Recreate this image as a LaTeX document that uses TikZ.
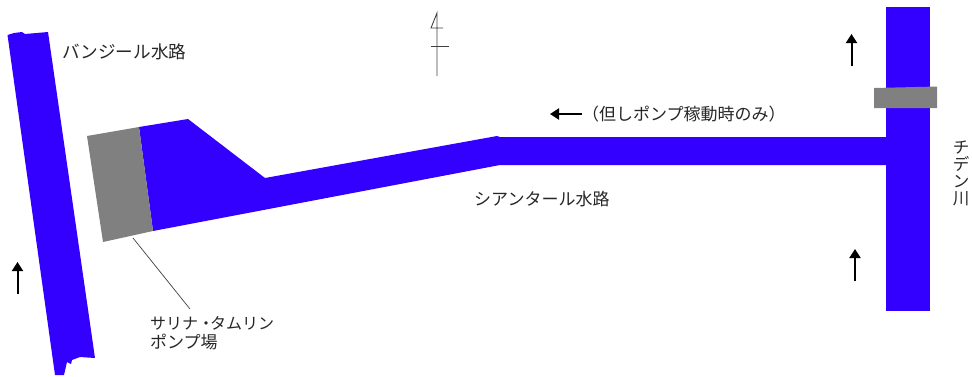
\documentclass[tikz,border=0pt]{standalone}
\usepackage{fontspec}
\usetikzlibrary{arrows.meta}
\setmainfont{Noto Sans CJK JP}
\definecolor{canal}{HTML}{3300FF}
\definecolor{pumpgray}{HTML}{808080}
\begin{document}
\begin{tikzpicture}[x=1pt,y=-1pt,
  water/.style={fill=canal,draw=none},
  pump/.style={fill=pumpgray,draw=none},
  flow/.style={line width=2pt,-{Triangle[length=9pt,width=11pt]},black},
  thin line/.style={draw=black!75,line width=0.9pt},
  label/.style={inner sep=0pt,anchor=west,font=\fontsize{17}{19}\selectfont,text=black!85}]
\useasboundingbox (0,0) rectangle (972,376);
% left canal
\fill[water] (7.5,35) -- (14,33) -- (22,32) -- (25,34) -- (48,32) -- (95,358) -- (80,357) -- (72,360) -- (71,364) -- (67,362) -- (64,375) -- (55,375) -- cycle;
% main canal
\fill[water] (139,127) -- (188,119) -- (265,178) -- (497,136) -- (500,137) -- (886,137) -- (886,165) -- (500,165) -- (153,231) -- cycle;
% river
\fill[water] (886,7) rectangle (930,311);
% pump stations
\fill[pump] (87,136) -- (139,127) -- (153,231) -- (103,242) -- cycle;
\fill[pump] (874,88) -- (937,86.5) -- (937,108) -- (874,108) -- cycle;
% north mark
\coordinate (nt) at (437,13);
\coordinate (nb) at (437,76);
\coordinate (nh) at (431,28);
\coordinate (nr) at (443,28);
\coordinate (cl) at (431,46);
\coordinate (cr) at (449,46);
\draw[thin line] (nb) -- (nt) -- (nh) -- (nr);
\draw[thin line] (cl) -- (cr);
% leader
\coordinate (l1) at (133,238);
\coordinate (l2) at (190,309);
\draw[thin line,line width=0.7pt] (l1) -- (l2);
% arrows
\coordinate (a1s) at (17.5,294); \coordinate (a1e) at (17.5,262);
\coordinate (a2s) at (851.5,66); \coordinate (a2e) at (851.5,34);
\coordinate (a3s) at (855,281); \coordinate (a3e) at (855,249);
\coordinate (a4s) at (582,114); \coordinate (a4e) at (550,114);
\draw[flow] (a1s) -- (a1e);
\draw[flow] (a2s) -- (a2e);
\draw[flow] (a3s) -- (a3e);
\draw[flow] (a4s) -- (a4e);
% labels
\node[label,font=\fontsize{17.6}{19}\selectfont] (t1) at (62,52) {バンジール水路};
\node[label] (t2) at (474,199) {シアンタール水路};
\node[label] (t3) at (582,114) {（但しポンプ稼動時のみ）};
\node[label,font=\fontsize{16}{19}\selectfont] (t4) at (150,323) {サリナ・\hspace{-4pt}タムリン};
\node[label] (t5) at (150,342) {ポンプ場};
\node[label,anchor=center,align=center,font=\fontsize{16.5}{17}\selectfont] (t6) at (961,173.5) {チ\\デ\\ン\\川};
\end{tikzpicture}
\end{document}
